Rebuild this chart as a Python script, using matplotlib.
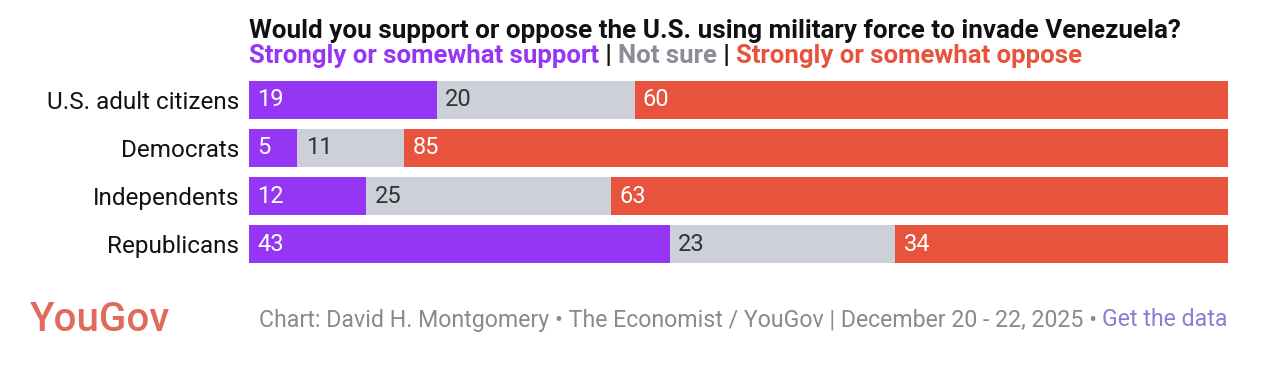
import matplotlib
matplotlib.use("Agg")
import matplotlib.pyplot as plt

categories = ["U.S. adult citizens", "Democrats", "Independents", "Republicans"]
support = [19, 5, 12, 43]
not_sure = [20, 11, 25, 23]
oppose = [60, 85, 63, 34]

series_names = ["Strongly or somewhat support", "Not sure", "Strongly or somewhat oppose"]
colors = ["#9636f5", "#cdd0d8", "#e8533d"]
label_colors = ["white", "#333333", "white"]

title = "Would you support or oppose the U.S. using military force to invade Venezuela?"
footer = "Chart: David H. Montgomery \u2022 The Economist / YouGov | December 20 - 22, 2025 \u2022 "
footer_link = "Get the data"

W, H = 1276, 366
fig = plt.figure(figsize=(W / 100, H / 100), dpi=100)

# axes box in pixels: bars from x 249 to 1228, y 80 to 264
left, right = 249, 1228
top, bottom = 75.5, 268.5
ax = fig.add_axes([left / W, 1 - bottom / H, (right - left) / W, (bottom - top) / H])

font = "Roboto"
bar_h = 0.785
for i, cat in enumerate(categories):
    vals = [support[i], not_sure[i], oppose[i]]
    total = sum(vals)
    start = 0
    for j, v in enumerate(vals):
        w = v / total * 100
        ax.barh(i, w, left=start, height=bar_h, color=colors[j], linewidth=0)
        ax.text(start + 0.85, i, str(v), va="center", ha="left",
                color=label_colors[j], fontsize=17, family=font)
        start += w

ax.set_xlim(0, 100)
ax.set_ylim(len(categories) - 0.5, -0.5)
ax.set_yticks(range(len(categories)))
ax.set_yticklabels(categories, fontsize=17.5, family=font, color="#111111")
ax.tick_params(axis="y", length=0, pad=7)
ax.set_xticks([])
for s in ax.spines.values():
    s.set_visible(False)

fig.text(left / W, 1 - 31 / H, title, fontsize=18.7, fontweight="bold",
         family=font, color="#111111", va="center", ha="left")

# legend line built piece by piece
fig.canvas.draw()
renderer = fig.canvas.get_renderer()
x = left
pieces = [(series_names[0], "#9636f5"), (" | ", "#111111"),
          (series_names[1], "#8a8d96"), (" | ", "#111111"),
          (series_names[2], "#e8533d")]
for txt, col in pieces:
    t = fig.text(x / W, 1 - 56 / H, txt, fontsize=18.5, fontweight="bold",
                 family=font, color=col, va="center", ha="left")
    bb = t.get_window_extent(renderer)
    x = x + bb.width

fig.text(30 / W, 1 - 320 / H, "YouGov", fontsize=29, family=font,
         fontweight="medium", color="#e06a5b", va="center", ha="left")

t2 = fig.text(right / W, 1 - 320 / H, footer_link, fontsize=16.7, family=font,
              color="#8a7fd6", va="center", ha="right")
bb = t2.get_window_extent(renderer)
fig.text(bb.x0 / W, 1 - 320 / H, footer, fontsize=16.7, family=font,
         color="#8a8a8a", va="center", ha="right")

fig.savefig("out.png", dpi=100)
